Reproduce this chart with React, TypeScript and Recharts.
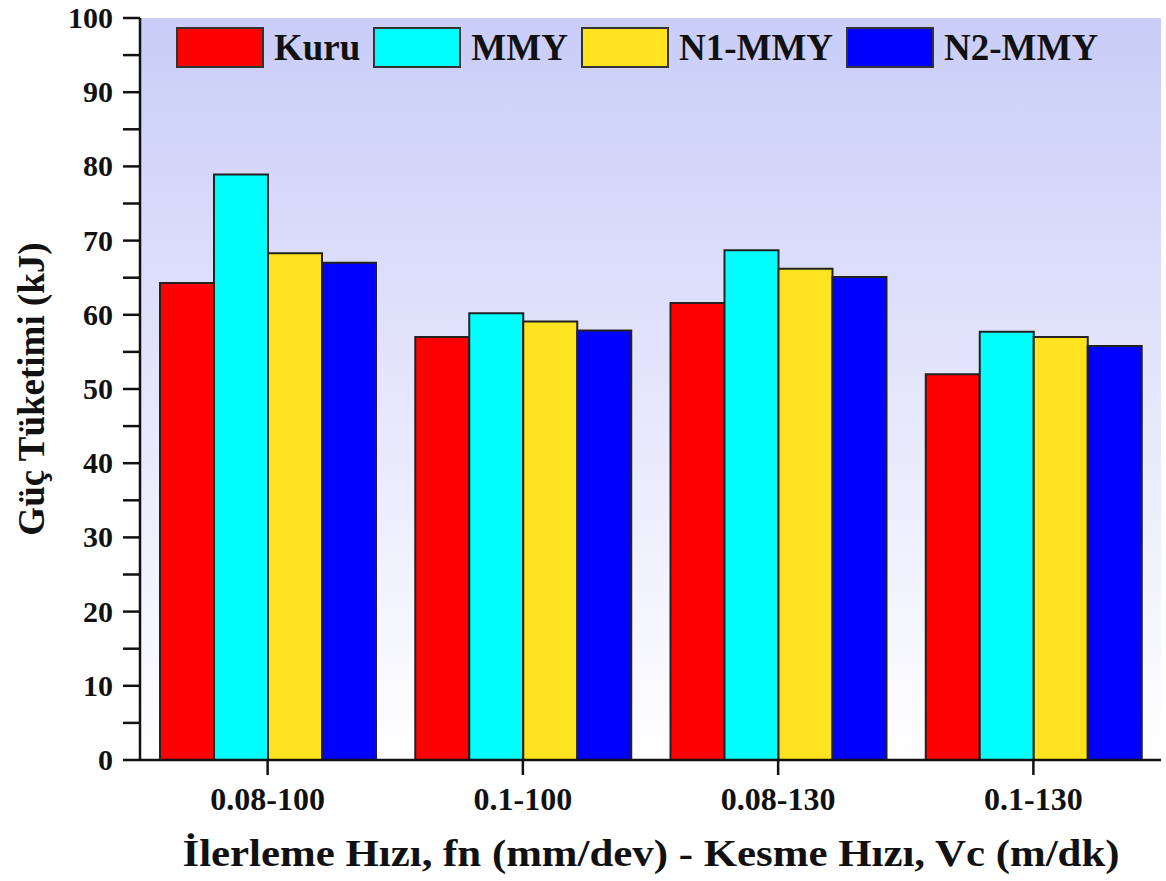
import {
  BarChart,
  Bar,
  XAxis,
  YAxis,
  CartesianGrid,
  Legend,
  Label,
} from "recharts";

const categories = ["0.08-100", "0.1-100", "0.08-130", "0.1-130"];
const kuru = [64.3, 57.0, 61.6, 52.0];
const mmy = [78.9, 60.2, 68.7, 57.7];
const n1mmy = [68.3, 59.1, 66.2, 57.0];
const n2mmy = [67.0, 57.9, 65.1, 55.8];
const yTicks = [0, 5, 10, 15, 20, 25, 30, 35, 40, 45, 50, 55, 60, 65, 70, 75, 80, 85, 90, 95, 100];

const series = [
  { key: "kuru", name: "Kuru", color: "#ff0000" },
  { key: "mmy", name: "MMY", color: "#00ffff" },
  { key: "n1", name: "N1-MMY", color: "#ffe31f" },
  { key: "n2", name: "N2-MMY", color: "#0000ff" },
];

const data = categories.map((c, i) => ({
  name: c,
  kuru: kuru[i],
  mmy: mmy[i],
  n1: n1mmy[i],
  n2: n2mmy[i],
}));

const FONT = '"Liberation Serif", "Times New Roman", serif';

const YTick = (props: any) => {
  const { x, y, payload } = props;
  if (payload.value % 10 !== 0) return null;
  return (
    <text x={x} y={y} dy={10} textAnchor="end" fontFamily={FONT} fontWeight="bold" fontSize={30} fill="#111">
      {payload.value}
    </text>
  );
};

const LegendBox = () => (
  <div style={{ display: "flex", alignItems: "center", gap: 13 }}>
    {series.map((s) => (
      <div key={s.key} style={{ display: "flex", alignItems: "center" }}>
        <div
          style={{
            width: 84,
            height: 37,
            background: s.color,
            border: "2px solid #333",
          }}
        />
        <span
          style={{
            marginLeft: 10,
            fontFamily: FONT,
            fontWeight: "bold",
            fontSize: 37,
            color: "#111",
            lineHeight: 1,
          }}
        >
          {s.name}
        </span>
      </div>
    ))}
  </div>
);

const App = () => {
  return (
    <div style={{ position: "absolute", left: 0, top: 0, width: 1166, height: 881, background: "#fff" }}>
      <BarChart
        width={1166}
        height={881}
        data={data}
        margin={{ top: 18, right: 5, left: 0, bottom: 0 }}
        barGap={0}
        barCategoryGap={20}
      >
        <defs>
          <linearGradient id="bg" x1="0" y1="0" x2="0" y2="1">
            <stop offset="0%" stopColor="#c9cdf8" />
            <stop offset="100%" stopColor="#ffffff" />
          </linearGradient>
        </defs>
        <CartesianGrid fill="url(#bg)" horizontal={false} vertical={false} />
        <XAxis
          dataKey="name"
          height={121}
          tickSize={15}
          tickMargin={12}
          axisLine={{ stroke: "#111", strokeWidth: 2.5 }}
          tickLine={{ stroke: "#111", strokeWidth: 2.5 }}
          tick={{ fill: "#111", fontFamily: FONT, fontWeight: "bold", fontSize: 32 }}
        >
          <Label
            content={() => (
              <text
                x={651}
                y={866}
                textAnchor="middle"
                fontFamily={FONT}
                fontWeight="bold"
                fontSize={38}
                fill="#111"
                textLength={937}
                lengthAdjust="spacingAndGlyphs"
              >
                İlerleme Hızı, fn (mm/dev) - Kesme Hızı, Vc (m/dk)
              </text>
            )}
          />
        </XAxis>
        <XAxis xAxisId="top" orientation="top" dataKey="name" height={0} tick={false} tickLine={false} axisLine={{ stroke: "#111", strokeWidth: 2.5 }} />
        <YAxis
          width={140}
          domain={[0, 100]}
          ticks={yTicks}
          interval={0}
          tickSize={17}
          tickMargin={10}
          axisLine={{ stroke: "#111", strokeWidth: 2.5 }}
          tickLine={{ stroke: "#111", strokeWidth: 2.5 }}
          tick={<YTick />}
        >
          <Label
            content={() => (
              <text
                x={44}
                y={389}
                transform="rotate(-90 44 389)"
                textAnchor="middle"
                fontFamily={FONT}
                fontWeight="bold"
                fontSize={37}
                fill="#111"
              >
                Güç Tüketimi (kJ)
              </text>
            )}
          />
        </YAxis>
        <YAxis yAxisId="right" orientation="right" width={0} domain={[0, 100]} tick={false} tickLine={false} axisLine={{ stroke: "#111", strokeWidth: 2.5 }} />
        <Legend
          verticalAlign="middle"
          align="center"
          content={<LegendBox />}
          wrapperStyle={{ top: 27, left: 176, width: "auto" }}
        />
        {series.map((s) => (
          <Bar
            key={s.key}
            dataKey={s.key}
            name={s.name}
            fill={s.color}
            stroke="#222"
            strokeWidth={2}
            isAnimationActive={false}
          />
        ))}
      </BarChart>
    </div>
  );
};

export default App;
